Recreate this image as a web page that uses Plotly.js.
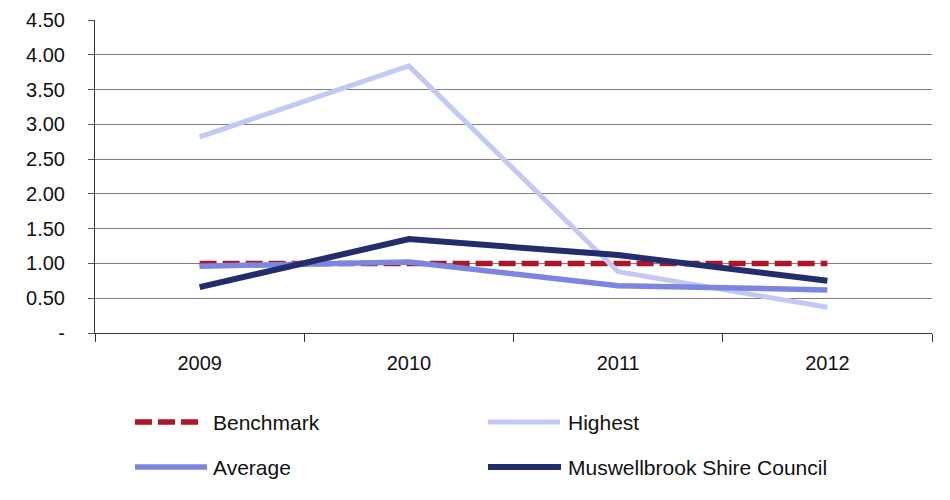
<!DOCTYPE html>
<html><head><meta charset="utf-8">
<script src="https://cdn.plot.ly/plotly-3.0.1.min.js"></script>
<style>body{margin:0;background:#fff}#chart{width:950px;height:500px}</style>
</head><body><div id="chart"></div>
<script>
const years = ['2009','2010','2011','2012'];
const benchmark = [1.00, 1.00, 1.00, 1.00];
const highest = [2.82, 3.84, 0.88, 0.37];
const average = [0.96, 1.02, 0.68, 0.62];
const muswellbrook = [0.66, 1.35, 1.12, 0.75];
const yTickVals = [0,0.5,1,1.5,2,2.5,3,3.5,4,4.5];
const yTickText = ['-','0.50','1.00','1.50','2.00','2.50','3.00','3.50','4.00','4.50'];
const seriesNames = ['Benchmark','Highest','Average','Muswellbrook Shire Council'];

const colors = ['#ad1628', '#c3c9f4', '#7c86e0', '#232d6d'];
const dashes = ['17px,6px', 'solid', 'solid', 'solid'];
const widths = [5.5, 5, 5.5, 6];
const data = [benchmark, highest, average, muswellbrook];

const traces = data.map((vals, i) => ({
  x: years, y: vals, name: seriesNames[i], mode: 'lines', showlegend: false,
  line: {color: colors[i], width: widths[i], dash: dashes[i]}
}));

// Manual legend (2 columns x 2 rows), paper coordinates
const L = 95, R = 18, T = 20, B = 167, W = 950, H = 500;
const pw = W - L - R, ph = H - T - B;
const px = v => (v - L) / pw;
const py = v => (H - B - v) / ph;
const legendPos = [
  {x0: 135, x1: 199, y: 422, tx: 211},
  {x0: 488, x1: 560, y: 422, tx: 566},
  {x0: 135, x1: 207, y: 467, tx: 211},
  {x0: 488, x1: 561, y: 467, tx: 566}
];
const shapes = legendPos.map((p, i) => ({
  type: 'line', xref: 'paper', yref: 'paper',
  x0: px(p.x0), x1: px(p.x1), y0: py(p.y), y1: py(p.y),
  line: {color: colors[i], width: widths[i], dash: dashes[i]}
}));
const annotations = legendPos.map((p, i) => ({
  xref: 'paper', yref: 'paper', x: px(p.tx), y: py(p.y),
  xanchor: 'left', yanchor: 'middle', showarrow: false,
  text: seriesNames[i], font: {size: 21, color: '#111'}
}));

const layout = {
  width: W, height: H,
  margin: {l: L, r: R, t: T, b: B},
  paper_bgcolor: '#fff', plot_bgcolor: '#fff',
  font: {family: 'Liberation Sans, Arial, sans-serif', size: 20, color: '#111'},
  showlegend: false,
  shapes: shapes, annotations: annotations,
  xaxis: {type: 'category', showgrid: false, showline: true, linecolor: '#333', linewidth: 1,
          ticks: 'outside', tickson: 'boundaries', ticklen: 8, tickcolor: '#333',
          ticklabelstandoff: 12,
          tickfont: {size: 20}, range: [-0.5, 3.5], zeroline: false, automargin: false},
  yaxis: {range: [0, 4.5], tickvals: yTickVals, ticktext: yTickText, showgrid: true,
          gridcolor: '#7e7e7e', gridwidth: 1, showline: true, linecolor: '#333', linewidth: 1,
          ticks: 'outside', ticklen: 6, tickcolor: '#555', ticklabelstandoff: 19,
          tickfont: {size: 20}, zeroline: false, automargin: false}
};
Plotly.newPlot('chart', traces, layout, {displayModeBar: false, staticPlot: true});
</script></body></html>
